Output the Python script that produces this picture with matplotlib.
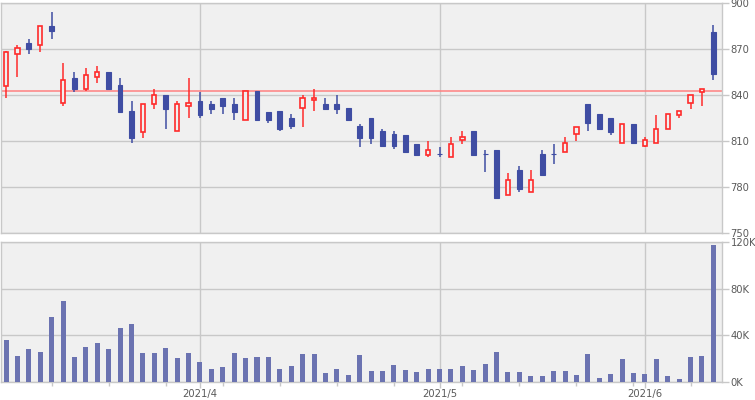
import numpy as np
import pandas as pd
import matplotlib
matplotlib.use("Agg")
import matplotlib.pyplot as plt
from matplotlib.ticker import FixedLocator, FuncFormatter

# trading days (Tokyo market, Golden Week closed)
holidays = ["2021-04-29", "2021-05-03", "2021-05-04", "2021-05-05"]
dates = pd.bdate_range("2021-03-09", "2021-06-09")
dates = dates[~dates.isin(pd.to_datetime(holidays))]

opens = [846, 867, 874, 873, 885, 835, 851, 844, 852, 855, 847, 830, 816, 834, 840, 817,
         833, 836, 834, 838, 834, 824, 843, 829, 830, 825, 832, 837, 834, 834, 832, 820,
         825, 817, 815, 814, 808, 801, 802, 800, 811, 817, 802, 804, 775, 791, 777, 802,
         802, 803, 815, 834, 828, 825, 809, 821, 807, 809, 818, 827, 835, 842, 881]
highs = [869, 873, 877, 885, 894, 861, 855, 858, 859, 855, 851, 836, 834, 844, 840, 836,
         851, 842, 836, 838, 838, 843, 843, 829, 830, 828, 840, 844, 838, 840, 832, 821,
         825, 818, 817, 814, 808, 810, 806, 813, 817, 817, 804, 804, 789, 794, 791, 804,
         808, 813, 819, 834, 828, 825, 821, 821, 813, 827, 828, 830, 840, 844, 886]
lows = [838, 852, 867, 868, 877, 833, 842, 843, 848, 844, 829, 809, 812, 831, 818, 817,
        825, 825, 828, 828, 824, 824, 823, 822, 817, 818, 819, 830, 831, 828, 824, 806,
        808, 807, 805, 803, 801, 800, 800, 800, 808, 801, 790, 773, 775, 777, 777, 788,
        795, 803, 810, 817, 818, 814, 809, 809, 806, 809, 818, 825, 831, 833, 850]
closes = [868, 871, 870, 885, 882, 850, 844, 853, 855, 844, 829, 812, 834, 840, 831, 834,
          835, 827, 831, 833, 829, 843, 824, 824, 818, 820, 838, 838, 831, 831, 824, 812,
          812, 807, 807, 803, 801, 804, 802, 808, 813, 801, 802, 773, 785, 779, 785, 788,
          802, 809, 819, 822, 818, 816, 821, 809, 811, 818, 828, 830, 840, 844, 854]
volumes = [35900, 22200, 28200, 25600, 55500, 69200, 21400, 29900, 33300, 28200, 46100,
           49500, 24800, 24800, 29000, 20500, 24800, 17100, 11100, 12800, 24800, 20500,
           21400, 21400, 11100, 13700, 23900, 23900, 7700, 11100, 6000, 23100, 9400, 9400,
           14500, 10200, 8500, 11100, 11100, 11100, 13700, 10200, 15400, 25600, 8500, 8500,
           5100, 5100, 9400, 9400, 6000, 23900, 3400, 6800, 19600, 7700, 6800, 19600, 5100,
           2600, 21400, 22200, 117900]
ref_price = 843

price_ticks = [750, 780, 810, 840, 870, 900]
volume_ticks = [0, 40000, 80000, 120000]

UP = "#ff2b2b"
DOWN = "#3f4da3"
VOL = "#6b73b1"
BG = "#f0f0f0"
GRID = "#c8c8c8"
TEXT = "#5a5a5a"

W, H = 755, 400
fig = plt.figure(figsize=(W / 100, H / 100), dpi=100)
ax_p = fig.add_axes([1 / W, 1 - 233.3 / H, 721 / W, 230 / H])
ax_v = fig.add_axes([1 / W, 1 - 382 / H, 721 / W, 139.7 / H])

x = np.arange(len(dates))
month_pos = [i for i in range(1, len(dates)) if dates[i].month != dates[i - 1].month]
week_pos = [i for i in range(1, len(dates))
            if dates[i].isocalendar()[1] != dates[i - 1].isocalendar()[1]]

o = np.array(opens, float)
c = np.array(closes, float)
up = c > o
body_lo = np.minimum(o, c)
body_h = np.abs(c - o)

# candles
ax_p.vlines(x, lows, highs, colors=[UP if u else DOWN for u in up], lw=1.1, zorder=3)
ax_p.bar(x[up], body_h[up], bottom=body_lo[up], width=0.38, facecolor=BG,
         edgecolor=UP, lw=1.2, zorder=4)
ax_p.bar(x[~up], body_h[~up], bottom=body_lo[~up], width=0.42, color=DOWN,
         edgecolor=DOWN, lw=0.8, zorder=4)
ax_p.axhline(ref_price, color="#ff8080", lw=1.1, zorder=2)

# volume
ax_v.bar(x, volumes, width=0.44, color=VOL, zorder=3)

for ax, ticks in ((ax_p, price_ticks), (ax_v, volume_ticks)):
    ax.set_facecolor(BG)
    ax.set_xlim(-0.44, 62.76)
    ax.set_ylim(ticks[0], ticks[-1])
    ax.set_yticks(ticks)
    ax.yaxis.tick_right()
    ax.grid(axis="y", color=GRID, lw=1, zorder=1)
    for m in month_pos:
        ax.axvline(m, color=GRID, lw=1, zorder=1)
    for s in ax.spines.values():
        s.set_color(GRID)
        s.set_linewidth(1)
    ax.tick_params(axis="y", length=5, width=1, color=GRID, pad=1.2,
                   labelsize=7.2, labelcolor=TEXT)

ax_v.yaxis.set_major_formatter(FuncFormatter(lambda v, p: f"{int(v / 1000)}K"))

ax_p.set_xticks([])
ax_v.xaxis.set_major_locator(FixedLocator(month_pos))
ax_v.xaxis.set_minor_locator(FixedLocator(week_pos))
ax_v.set_xticklabels([f"{dates[m].year}/{dates[m].month}" for m in month_pos])
ax_v.tick_params(axis="x", which="major", length=4.5, width=1, color=GRID, pad=0.8,
                 labelsize=7.2, labelcolor=TEXT)
ax_v.tick_params(axis="x", which="minor", length=3, width=1, color=GRID)

fig.savefig("out.png", dpi=100, facecolor="white")
